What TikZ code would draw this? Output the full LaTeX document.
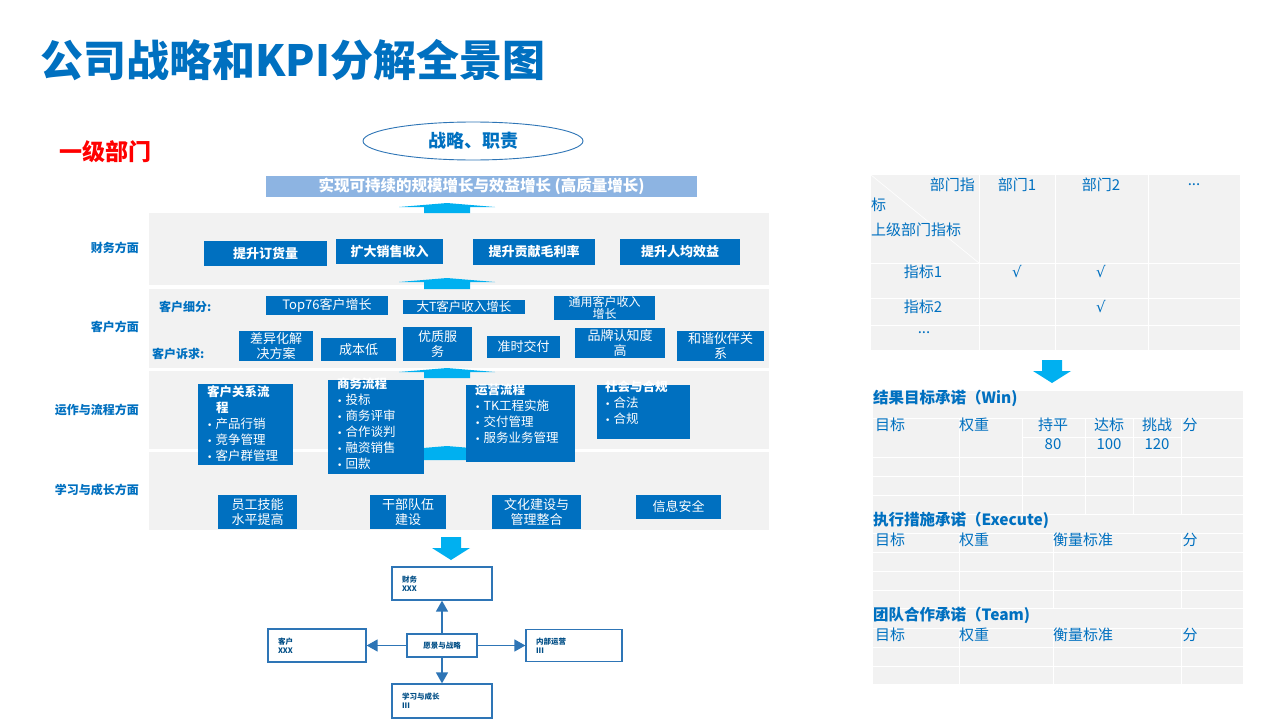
\documentclass[tikz,border=0pt]{standalone}
\usepackage{fontspec}
\setmainfont{Noto Sans CJK SC}
\newfontfamily\kpisym{DejaVu Sans}
\usepackage{tikz}
\usetikzlibrary{arrows.meta,positioning,shapes}
\definecolor{colorkpi}{RGB}{0,112,192}
\definecolor{colorpanel}{RGB}{242,242,242}
\definecolor{colorarrow}{RGB}{0,176,240}
\definecolor{colorframe}{RGB}{46,117,182}
\definecolor{colorbanner}{RGB}{141,180,226}
\tikzstyle{every node}=[inner sep=0pt]
\tikzstyle{panel}=[fill=colorpanel]
\tikzstyle{goal}=[rectangle, fill=colorkpi, text=white, align=center, font=\fontsize{13}{15}\selectfont\bfseries]
\tikzstyle{need}=[rectangle, fill=colorkpi, text=white, align=center, font=\fontsize{13}{15}\selectfont]
\tikzstyle{process}=[rectangle, fill=colorkpi, anchor=north west]
\tikzstyle{processtext}=[anchor=north west, text=white, align=left, font=\fontsize{12.5}{16}\selectfont]
\tikzstyle{aspect}=[text=colorkpi, font=\fontsize{12}{14}\selectfont\bfseries]
\tikzstyle{perspective}=[rectangle, draw=colorframe, line width=1.3pt, fill=white, text=colorkpi!70!black, font=\fontsize{7.5}{9}\selectfont\bfseries, align=left, inner xsep=10pt]
\tikzstyle{flow}=[draw=colorframe, line width=1.5pt, -{Triangle[length=11pt,width=12pt]}]
\tikzstyle{cell}=[text=colorkpi, font=\fontsize{15}{17}\selectfont]
\tikzstyle{section}=[anchor=west, text=colorkpi, font=\fontsize{15.5}{17}\selectfont\bfseries]
\tikzstyle{gridline}=[draw=white, line width=1pt]
\newcommand{\kpidot}{{\kpisym\fontsize{9}{9}\selectfont •}\hspace{3pt}}
\newcommand{\kpitick}{{\kpisym √}}
\newcommand{\kpiup}[3]{\fill[colorarrow] (#1-48,#2+4) -- (#1,#2) -- (#1+48,#2+4) -- (#1+23,#2+4) -- (#1+23,#3) -- (#1-23,#3) -- (#1-23,#2+4) -- cycle;}
\newcommand{\kpidown}[3]{\fill[colorarrow] (#1-10,#2) -- (#1+10,#2) -- (#1+10,#3-12) -- (#1+19,#3-12) -- (#1,#3) -- (#1-19,#3-12) -- (#1-10,#3-12) -- cycle;}
\begin{document}
\begin{tikzpicture}[x=1pt, y=-1pt]
		\useasboundingbox[fill=white] (0,0) rectangle (1280,720);
		
		\node[anchor=west, text=colorkpi, font=\fontsize{43}{48}\selectfont\bfseries] at (40,60) (title) {公司战略和KPI分解全景图};
		
		\node[anchor=west, text=red, font=\fontsize{23}{26}\selectfont\bfseries] at (59,152) (level) {一级部门};
		
		\node[ellipse, draw=colorframe, line width=0.9pt, minimum width=220, minimum height=38, text=colorkpi, font=\fontsize{18}{20}\selectfont\bfseries] at (473,141) (duty) {战略、职责};
		
		\node[fill=colorbanner, minimum width=431, minimum height=21, text=white, font=\fontsize{15.5}{17}\selectfont\bfseries] at (481.5,186.5) (aim) {实现可持续的规模增长与效益增长 (高质量增长)};
		
		% four layers
		\fill[panel] (149,213) rectangle (769,285);
		\fill[panel] (149,289) rectangle (769,368);
		\fill[panel] (149,371) rectangle (769,449);
		\fill[panel] (149,452) rectangle (769,530);
		
		\node[aspect, anchor=east] at (139,248) (a1) {财务方面};
		\node[aspect, anchor=east] at (139,327) (a2) {客户方面};
		\node[aspect, anchor=east] at (139,410) (a3) {运作与流程方面};
		\node[aspect, anchor=east] at (139,490) (a4) {学习与成长方面};
		
		\kpiup{447}{203}{213}
		\kpiup{447}{278}{289}
		\kpiup{447}{368}{378}
		\kpiup{447}{446}{460}
		\kpidown{451}{537}{560}
		
		\node[goal, minimum width=123, minimum height=25] at (265.5,253.5) (fin1) {提升订货量};
		\node[goal, minimum width=107, minimum height=25] at (389.5,251.5) (fin2) {扩大销售收入};
		\node[goal, minimum width=122, minimum height=26] at (534,252) (fin3) {提升贡献毛利率};
		\node[goal, minimum width=120, minimum height=26] at (680,252) (fin4) {提升人均效益};
		
		\node[aspect, anchor=west] at (159,307) (seg) {客户细分:};
		\node[aspect, anchor=west] at (152,354) (req) {客户诉求:};
		
		\node[need, minimum width=122, minimum height=19] at (327,305.5) (seg1) {Top76客户增长};
		\node[need, minimum width=122, minimum height=14, font=\fontsize{12.5}{13}\selectfont] at (464,307) (seg2) {大T客户收入增长};
		\node[need, minimum width=101, minimum height=24, font=\fontsize{12}{12}\selectfont] at (604.5,308) (seg3) {通用客户收入\\增长};
		
		\node[need, minimum width=74, minimum height=30] at (276,346) (need1) {差异化解\\决方案};
		\node[need, minimum width=75, minimum height=23] at (358.5,349.5) (need2) {成本低};
		\node[need, minimum width=69, minimum height=34] at (437.5,344) (need3) {优质服\\务};
		\node[need, minimum width=73, minimum height=22] at (523.5,347) (need4) {准时交付};
		\node[need, minimum width=90, minimum height=30] at (620,343) (need5) {品牌认知度\\高};
		\node[need, minimum width=87, minimum height=30] at (720.5,346) (need6) {和谐伙伴关\\系};
		
		\node[process, minimum width=95, minimum height=81] at (198,384) (proc1) {};
		\node[process, minimum width=96, minimum height=94] at (328,380) (proc2) {};
		\node[process, minimum width=109, minimum height=77] at (466,385) (proc3) {};
		\node[process, minimum width=93, minimum height=54] at (597,385) (proc4) {};
		
		\node[processtext] at ([shift={(9,1)}]proc1.north west) (text1) {{\bfseries 客户关系流}\\\hspace{9pt}{\bfseries 程}\\\kpidot 产品行销\\\kpidot 竞争管理\\\kpidot 客户群管理};
		\node[processtext] at ([shift={(9,-2)}]proc2.north west) (text2) {{\bfseries 商务流程}\\\kpidot 投标\\\kpidot 商务评审\\\kpidot 合作谈判\\\kpidot 融资销售\\\kpidot 回款};
		\node[processtext] at ([shift={(9,-1)}]proc3.north west) (text3) {{\bfseries 运营流程}\\\kpidot TK工程实施\\\kpidot 交付管理\\\kpidot 服务业务管理};
		\node[processtext] at ([shift={(8,-4)}]proc4.north west) (text4) {{\bfseries 社会与合规}\\\kpidot 合法\\\kpidot 合规};
		
		\node[need, minimum width=79, minimum height=34] at (257.5,512) (learn1) {员工技能\\水平提高};
		\node[need, minimum width=76, minimum height=34] at (408,512) (learn2) {干部队伍\\建设};
		\node[need, minimum width=89, minimum height=34] at (536.5,512) (learn3) {文化建设与\\管理整合};
		\node[need, minimum width=85, minimum height=24] at (678.5,507) (learn4) {信息安全};
		
		% balanced scorecard
		\node[perspective, text width=80, minimum height=33] at (442,583.5) (xfin) {财务\\XXX};
		\node[perspective, text width=78, minimum height=33] at (317,645.5) (xcust) {客户\\XXX};
		\node[perspective, align=center, inner xsep=0pt, minimum width=70, minimum height=23] at (442,645.5) (xvision) {愿景与战略};
		\node[perspective, text width=76, minimum height=32] at (574,645.5) (xinner) {内部运营\\III};
		\node[perspective, text width=80, minimum height=34] at (442,701) (xlearn) {学习与成长\\III};
		
		\draw[flow] (xvision) -- (xfin);
		\draw[flow] (xvision) -- (xcust);
		\draw[flow] (xvision) -- (xinner);
		\draw[flow] (xvision) -- (xlearn);
		
		% indicator matrix
		\fill[panel] (871,175) rectangle (1240,350);
		\foreach \y in {263,298,325}
		\draw[gridline] (871,\y) -- (1240,\y);
		\foreach \x in {979,1055,1148}
		\draw[gridline] (\x,175) -- (\x,350);
		\draw[gridline, line width=0.6pt] (871,175) -- (979,263);
		
		\node[cell, anchor=east] at (975,185) (m0) {部门指};
		\node[cell, anchor=west] at (871,205) (m1) {标};
		\node[cell, anchor=west] at (871,230) (m2) {上级部门指标};
		\node[cell] at (1017,185) (d1) {部门1};
		\node[cell] at (1101,185) (d2) {部门2};
		\node[cell] at (1194,185) (d3) {...};
		\node[cell] at (923,272) (k1) {指标1};
		\node[cell] at (1017,272) (k1d1) {\kpitick};
		\node[cell] at (1101,272) (k1d2) {\kpitick};
		\node[cell] at (923,307) (k2) {指标2};
		\node[cell] at (1101,307) (k2d2) {\kpitick};
		\node[cell] at (924,333) (k3) {...};
		
		\kpidown{1052}{360}{383}
		
		% commitments
		\fill[panel] (873,391) rectangle (1243,684);
		\foreach \y in {418,457,476,495,514,533,552,571,590,608,628,647,666}
		\draw[gridline] (873,\y) -- (1243,\y);
		\draw[gridline] (1022,437) -- (1181,437);
		\foreach \x in {959,1022,1085,1133,1181}
		\draw[gridline] (\x,418) -- (\x,514);
		\foreach \x in {959,1053,1181}
		{\draw[gridline] (\x,533) -- (\x,608);
		\draw[gridline] (\x,628) -- (\x,684);}
		
		\node[section] at (873,398) (win) {结果目标承诺（Win)};
		\node[cell, anchor=west] at (875,425) (w1) {目标};
		\node[cell, anchor=west] at (959,425) (w2) {权重};
		\node[cell] at (1053,425) (w3) {持平};
		\node[cell] at (1109,425) (w4) {达标};
		\node[cell] at (1157,425) (w5) {挑战};
		\node[cell] at (1190,425) (w6) {分};
		\node[cell] at (1053,444) (v3) {80};
		\node[cell] at (1109,444) (v4) {100};
		\node[cell] at (1157,444) (v5) {120};
		
		\node[section] at (873,520) (exe) {执行措施承诺（Execute)};
		\node[cell, anchor=west] at (875,540) (e1) {目标};
		\node[cell, anchor=west] at (959,540) (e2) {权重};
		\node[cell, anchor=west] at (1053,540) (e3) {衡量标准};
		\node[cell] at (1190,540) (e4) {分};
		
		\node[section] at (873,615) (team) {团队合作承诺（Team)};
		\node[cell, anchor=west] at (875,635) (t1) {目标};
		\node[cell, anchor=west] at (959,635) (t2) {权重};
		\node[cell, anchor=west] at (1053,635) (t3) {衡量标准};
		\node[cell] at (1190,635) (t4) {分};
		
\end{tikzpicture}
\end{document}
